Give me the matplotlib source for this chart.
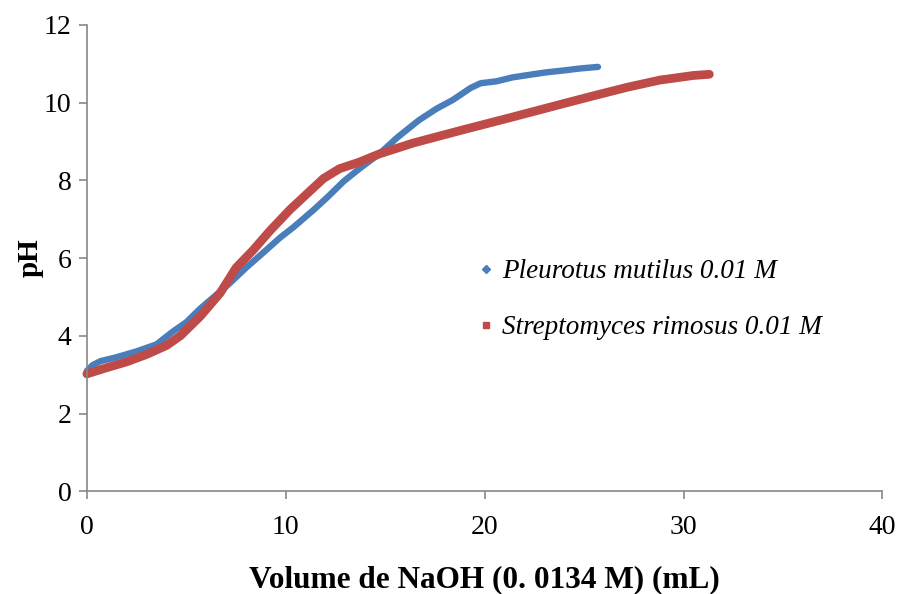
import matplotlib.pyplot as plt
from matplotlib.lines import Line2D

# volume NaOH (mL) vs pH
pleurotus_x = [0, 0.3, 0.7, 1.5, 2.5, 3.5, 4.3, 5.0, 5.7, 6.5, 7.2, 8.0, 9.0, 9.7, 10.4,
               11.4, 12.1, 12.9, 13.7, 14.7, 15.6, 16.7, 17.6, 18.4, 19.3, 19.8, 20.6,
               21.4, 22.3, 23.1, 24.0, 24.8, 25.7]
pleurotus_y = [3.1, 3.25, 3.35, 3.45, 3.6, 3.78, 4.1, 4.35, 4.7, 5.05, 5.36, 5.75, 6.2, 6.52, 6.8,
               7.24, 7.57, 7.97, 8.3, 8.68, 9.1, 9.55, 9.85, 10.07, 10.38, 10.5, 10.55,
               10.65, 10.72, 10.78, 10.83, 10.88, 10.92]

strepto_x = [0, 1, 2, 3, 4, 4.7, 5.7, 6.7, 7.5, 8.35, 9.2, 10.2, 11.1, 11.9, 12.7, 13.7,
             14.7, 16.4, 18.9, 21.4, 24.0, 25.5, 27.2, 28.8, 30.5, 31.3]
strepto_y = [3.02, 3.18, 3.33, 3.52, 3.75, 4.0, 4.5, 5.1, 5.75, 6.2, 6.7, 7.24, 7.67, 8.05, 8.3, 8.47,
             8.68, 8.96, 9.3, 9.63, 9.98, 10.18, 10.4, 10.58, 10.7, 10.73]

labels = ["Pleurotus mutilus 0.01 M", "Streptomyces rimosus 0.01 M"]
blue = "#4a7ebb"
red = "#be4b48"

plt.rcParams['font.family'] = ['Liberation Serif', 'DejaVu Serif']

fig = plt.figure(figsize=(9.05, 5.94), dpi=100)
ax = fig.add_axes([0.096, 0.173, 0.879, 0.785])

ax.plot(pleurotus_x, pleurotus_y, color=blue, lw=4.6, solid_capstyle='round',
        solid_joinstyle='round', clip_on=False)
ax.plot(strepto_x, strepto_y, color=red, lw=6.3, solid_capstyle='round',
        solid_joinstyle='round', clip_on=False)

ax.set_xlim(0, 40)
ax.set_ylim(0, 12)
ax.set_xticks(range(0, 41, 10))
ax.set_yticks(range(0, 13, 2))

for s in ['top', 'right']:
    ax.spines[s].set_visible(False)
for s in ['left', 'bottom']:
    ax.spines[s].set_color('#878787')
    ax.spines[s].set_linewidth(1.2)
ax.tick_params(direction='out', length=6, width=1.2, color='#878787', labelsize=20)
ax.tick_params(axis='y', pad=5)
ax.tick_params(axis='x', pad=11)

ax.set_xlabel("Volume de NaOH (0. 0134 M) (mL)", fontsize=22.5, fontweight='bold', labelpad=18)
ax.set_ylabel("pH", fontsize=21, fontweight='bold', labelpad=0)

handles = [Line2D([], [], ls='none', marker='D', ms=4, color=blue),
           Line2D([], [], ls='none', marker='s', ms=5, color=red)]
ax.legend(handles, labels, loc='upper left', bbox_to_anchor=(0.462, 0.55),
          frameon=False, prop={'style': 'italic', 'size': 19.5},
          labelspacing=1.15, handlelength=0.5, handletextpad=0.35)

fig.savefig("out.png", dpi=100)
